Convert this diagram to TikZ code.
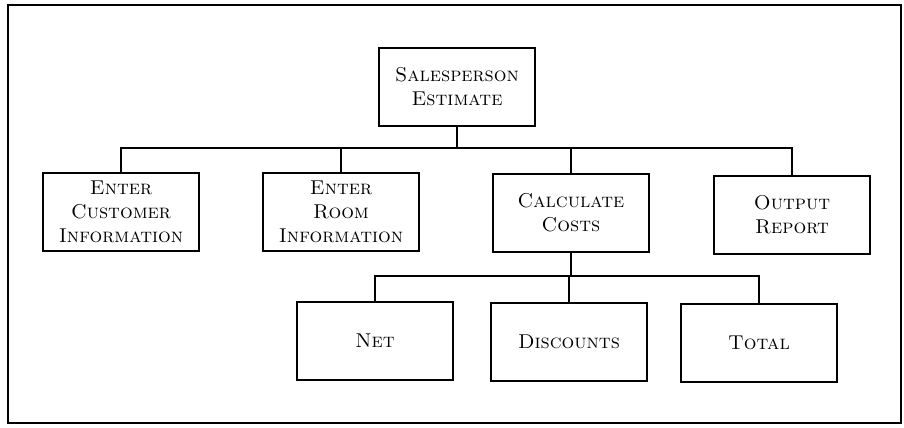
\documentclass[tikz,border=0pt]{standalone}
\usetikzlibrary{positioning}
\begin{document}
\begin{tikzpicture}[x=0.02cm, y=-0.02cm,
        module/.style={draw, line width=1pt, minimum width=3.12cm, minimum height=1.56cm,
            align=center, inner sep=2pt, font=\fontsize{11.4}{13.6}\selectfont\scshape},
        link/.style={line width=1.6pt}]
            % Frame
            \useasboundingbox (0,0) rectangle (904,427);
            \draw[line width=0.8pt] (8,5) rectangle (901,423);

            % Top module
            \node[module] (est) at (457,87) {Salesperson\\Estimate};

            % Second level
            \node[module] (cust) at (121,212) {Enter\\Customer\\Information};
            \node[module] (room) at (341,212) {Enter\\Room\\Information};
            \node[module] (calc) at (571,213) {Calculate\\Costs};
            \node[module] (outp) at (792,215) {Output\\Report};

            % Third level
            \node[module] (net) at (375,341) {Net};
            \node[module] (disc) at (569,342) {Discounts};
            \node[module] (total) at (759,343) {Total};

            % Bus lines
            \coordinate (bus1) at (457,148);
            \coordinate (bus2) at (571,276);

            % Connectors
            \foreach \child in {cust,room,calc,outp}
                \draw[link] (est.south) |- (bus1 -| \child.north) -- (\child.north);
            \foreach \child in {net,disc,total}
                \draw[link] (calc.south) |- (bus2 -| \child.north) -- (\child.north);

        \end{tikzpicture}
\end{document}
